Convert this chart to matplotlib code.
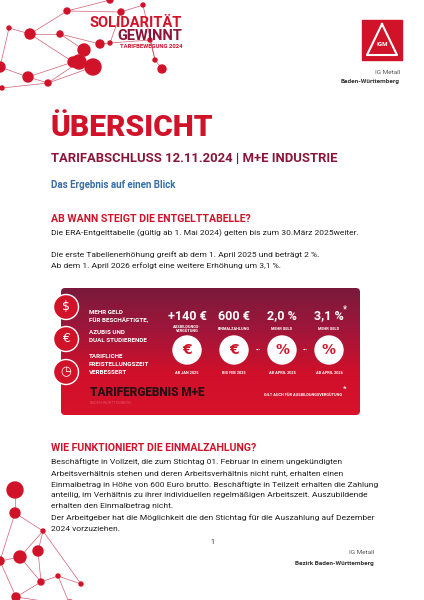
import matplotlib
matplotlib.use("Agg")
import matplotlib.pyplot as plt
import numpy as np
from matplotlib.patches import FancyBboxPatch, Circle, Rectangle
from matplotlib.colors import LinearSegmentedColormap

plt.rcParams['font.family'] = ['Roboto', 'DejaVu Sans']

# ---- data ----
stat_values = ["+140 €", "600 €", "2,0 %", "3,1 %"]
stat_labels = ["AUSBILDUNGS-\nVERGÜTUNG", "EINMALZAHLUNG", "MEHR GELD", "MEHR GELD"]
stat_dates = ["AB JAN 2025", "BIS FEB 2025", "AB APRIL 2025", "AB APRIL 2026"]
stat_icons = ["€", "€", "%", "%"]
left_items = [["MEHR GELD", "FÜR BESCHÄFTIGTE,"], ["AZUBIS UND", "DUAL STUDIERENDE"],
              ["TARIFLICHE", "FREISTELLUNGSZEIT", "VERBESSERT"]]

top_nodes_x = [67, 9, 30, 60, 84, 79, 73, 93, 100, 110, 121, 143, 155, 162, 28, 0, 48, 2, 110, 150]
top_nodes_y = [11, 28, 34, 34, 50, 62, 62, 67, 44, 43, 12, 5, 60, 69, 77, 67, 83, 88, 0, 40]
top_nodes_s = [3, 2, 5, 3, 6, 7, 5, 8, 4, 2, 3, 2, 2, 4, 5, 5, 3, 2, 3, 2]
top_edges = [(0,2),(1,2),(2,3),(3,4),(4,5),(5,7),(2,6),(6,5),(3,8),(8,9),(9,10),(10,11),(11,12),(12,13),(6,14),(14,15),(14,16),(16,5),(16,17),(0,10),(18,0),(9,19),(19,12),(7,16),(1,15)]
bot_nodes_x = [15, 15, 43, 20, 41, 58, 81, 70, 16, 0, 38]
bot_nodes_y = [490, 513, 531, 557, 582, 576, 584, 605, 597, 561, 551]
bot_nodes_s = [8, 5, 2, 6, 3, 2, 2, 5, 4, 4, 5]
bot_edges = [(0,1),(1,2),(2,3),(3,4),(4,5),(5,6),(2,10),(10,4),(3,9),(1,9),(4,8),(8,7),(7,5),(2,6),(9,8)]

RED = "#d1132a"
DARK = "#8a1538"
BLUE = "#3a6ea5"

fig = plt.figure(figsize=(4.24, 6.0), dpi=100)
ax = fig.add_axes([0, 0, 1, 1])
ax.set_xlim(0, 424)
ax.set_ylim(600, 0)
ax.axis("off")

def network(xs, ys, ss, edges):
    for a, b in edges:
        ax.plot([xs[a], xs[b]], [ys[a], ys[b]], color="#c8374d", lw=0.5, alpha=0.8, zorder=1)
    for x, y, s in zip(xs, ys, ss):
        ax.add_patch(Circle((x, y), s, color=RED, zorder=2))

network(top_nodes_x, top_nodes_y, top_nodes_s, top_edges)
network(bot_nodes_x, bot_nodes_y, bot_nodes_s, bot_edges)

ax.text(182, 23, "SOLIDARITÄT", color=RED, fontsize=10.5, fontweight="bold", ha="right", va="center")
ax.text(182, 36, "GEWINNT", color=DARK, fontsize=10.5, fontweight="bold", ha="right", va="center")
ax.text(182, 47, "TARIFBEWEGUNG 2024", color=RED, fontsize=4.2, fontweight="bold", ha="right", va="center")

# logo
ax.add_patch(Rectangle((362, 20), 40, 40, color=RED, zorder=2))
ax.plot([382, 367, 397, 382], [24, 55, 55, 24], color="white", lw=1.5, zorder=3)
ax.text(382, 44, "IGM", color="white", fontsize=4.5, fontweight="bold", ha="center", va="center", zorder=3)
ax.text(400, 72, "IG Metall", color="#555", fontsize=4.6, ha="right", va="center")
ax.text(400, 82, "Baden-Württemberg", color="#333", fontsize=4.6, fontweight="bold", ha="right", va="center")

ax.text(50, 128, "ÜBERSICHT", color=RED, fontsize=21.5, fontweight="black", va="center")
ax.text(51, 158, "TARIFABSCHLUSS 12.11.2024 | M+E INDUSTRIE", color=DARK, fontsize=9.4, fontweight="bold", va="center")
ax.text(51, 185, "Das Ergebnis auf einen Blick", color=BLUE, fontsize=7, fontweight="bold", va="center")

ax.text(51, 219, "AB WANN STEIGT DIE ENTGELTTABELLE?", color=RED, fontsize=7.6, fontweight="bold", va="center")
body = dict(color="#222", fontsize=6.1, va="center")
ax.text(51, 233, "Die ERA-Entgelttabelle (gültig ab 1. Mai 2024) gelten bis zum 30.März 2025weiter.", **body)
ax.text(51, 255, "Die erste Tabellenerhöhung greift ab dem 1. April 2025 und beträgt 2 %.", **body)
ax.text(51, 266, "Ab dem 1. April 2026 erfolgt eine weitere Erhöhung um 3,1 %.", **body)

# banner with gradient
bx0, by0, bx1, by1 = 61, 288, 360, 415
patch = FancyBboxPatch((bx0, by0), bx1 - bx0, by1 - by0, boxstyle="round,pad=0,rounding_size=4",
                       fc="none", ec="none", zorder=3)
ax.add_patch(patch)
grad = np.linspace(0, 1, 200).reshape(-1, 1)
cmap = LinearSegmentedColormap.from_list("g", ["#7a1a3c", "#a0163a", "#d0102a", "#d8122a"])
im = ax.imshow(grad, extent=(bx0, bx1, by1, by0), cmap=cmap, aspect="auto", zorder=3)
im.set_clip_path(patch)
ax.set_xlim(0, 424); ax.set_ylim(600, 0)

icons_left = ["$", "€", "◷"]
line_ys = [[313, 321], [332, 341], [357, 365, 373]]
for i, y in enumerate([307, 339, 372]):
    ax.add_patch(Circle((66, y), 12.5, color=RED, ec="white", lw=1, zorder=4))
    ax.text(66, y, icons_left[i], color="white", fontsize=9, ha="center", va="center", zorder=5,
            family=['DejaVu Sans'])
    for t, ly in zip(left_items[i], line_ys[i]):
        ax.text(89, ly, t, color="white", fontsize=4.5, fontweight="bold", va="center", zorder=5)

for i, x in enumerate([187, 234, 282, 329]):
    ax.text(x, 316, stat_values[i], color="white", fontsize=9, fontweight="bold", ha="center", va="center", zorder=5)
    ax.text(x, 329, stat_labels[i], color="white", fontsize=2.8, fontweight="bold", ha="center", va="center",
            linespacing=1.0, zorder=5)
    ax.add_patch(Circle((x, 350), 14, color="white", zorder=4))
    ax.text(x, 350, stat_icons[i], color=RED, fontsize=10, fontweight="bold", ha="center", va="center", zorder=5,
            family=['DejaVu Sans'])
    ax.text(x, 373, stat_dates[i], color="white", fontsize=2.8, fontweight="bold", ha="center", va="center", zorder=5)
    if i >= 2:
        ax.text(x - 24, 350, "•••", color="white", fontsize=3.5, ha="center", va="center", zorder=5)
ax.text(345, 309, "*", color="white", fontsize=7, ha="center", va="center", zorder=5)
ax.text(90, 393, "TARIFERGEBNIS M+E", color="#2a1015", fontsize=8.5, fontweight="black", va="center", zorder=5)
ax.text(90, 403, "BADEN-WÜRTTEMBERG", color="#e05060", fontsize=2.8, va="center", zorder=5)
ax.text(342, 395, "GILT AUCH FÜR AUSBILDUNGSVERGÜTUNG", color="white", fontsize=2.8, fontweight="bold",
        ha="right", va="center", zorder=5)
ax.text(345, 389, "*", color="white", fontsize=6, ha="center", va="center", zorder=5)

ax.text(51, 448, "WIE FUNKTIONIERT DIE EINMALZAHLUNG?", color=RED, fontsize=7.6, fontweight="bold", va="center")
para = ["Beschäftigte in Vollzeit, die zum Stichtag 01. Februar in einem ungekündigten",
        "Arbeitsverhältnis stehen und deren Arbeitsverhältnis nicht ruht, erhalten einen",
        "Einmalbetrag in Höhe von 600 Euro brutto. Beschäftigte in Teilzeit erhalten die Zahlung",
        "anteilig, im Verhältnis zu ihrer individuellen regelmäßigen Arbeitszeit. Auszubildende",
        "erhalten den Einmalbetrag nicht.",
        "Der Arbeitgeber hat die Möglichkeit die den Stichtag für die Auszahlung auf Dezember",
        "2024 vorzuziehen."]
for k, line in enumerate(para):
    ax.text(51, 462 + k * 11.1, line, **body)

ax.text(212, 543, "1", color="#333", fontsize=5, ha="center", va="center")
ax.text(374, 553, "IG Metall", color="#555", fontsize=4.6, ha="right", va="center")
ax.text(374, 563, "Bezirk Baden-Württemberg", color="#333", fontsize=4.6, fontweight="bold", ha="right", va="center")

fig.savefig("out.png", dpi=100, facecolor="white")
